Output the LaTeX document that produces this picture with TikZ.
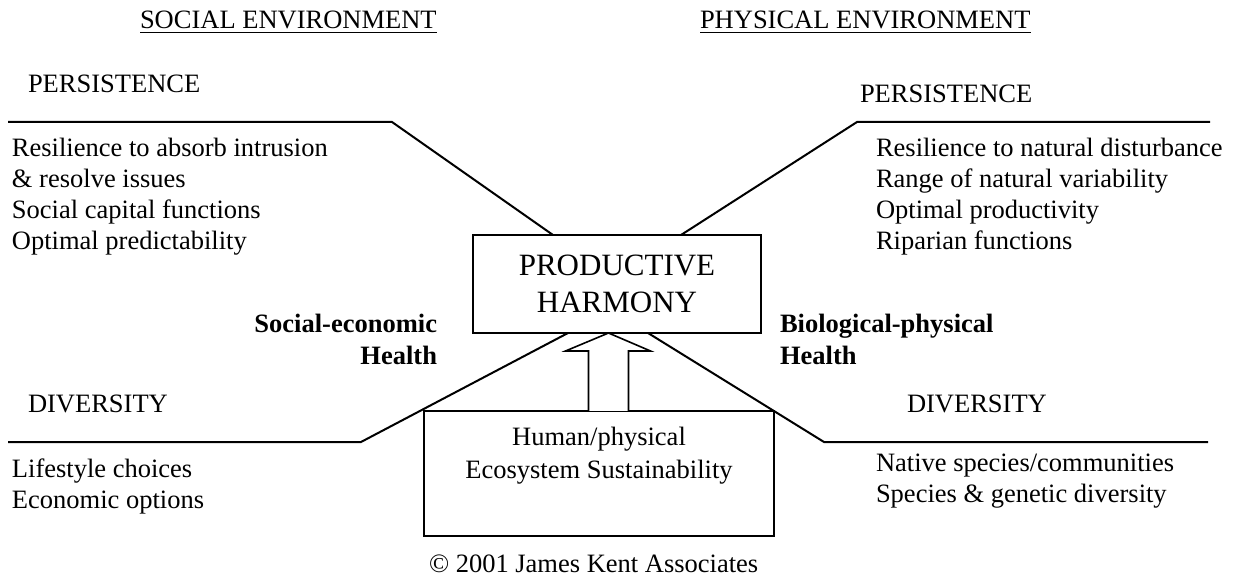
\documentclass[tikz,border=0pt]{standalone}
\usepackage{fontspec}
\setmainfont{Liberation Serif}
\usetikzlibrary{calc}
\tikzset{
  txt/.style={inner sep=0pt, outer sep=0pt, font=\fontsize{26.5}{31}\selectfont},
  bold/.style={txt, font=\fontsize{26.5}{31}\selectfont\bfseries},
  big/.style={inner sep=0pt, outer sep=0pt, font=\fontsize{31}{37}\selectfont},
  boxst/.style={draw, line width=1.6pt, inner sep=0pt, outer sep=0pt},
  branch/.style={line width=2pt, line join=miter},
  ul/.style={line width=1.3pt}
}
\begin{document}
\begin{tikzpicture}[x=1pt,y=-1pt]
\useasboundingbox (0,0) rectangle (1235,577);
% headings
\node[txt, anchor=base west] (soc) at (140,28.5) {SOCIAL ENVIRONMENT};
\node[txt, anchor=base west] (phy) at (700,28.5) {PHYSICAL ENVIRONMENT};
\draw[ul] ([yshift=-4pt]soc.base west) -- ([yshift=-4pt]soc.base east);
\draw[ul] ([yshift=-4pt]phy.base west) -- ([yshift=-4pt]phy.base east);
% section labels
\node[txt, anchor=base west] (persL) at (28,93) {PERSISTENCE};
\node[txt, anchor=base west] (persR) at (860,103) {PERSISTENCE};
\node[txt, anchor=base west] (divL) at (28,413) {DIVERSITY};
\node[txt, anchor=base west] (divR) at (907,413) {DIVERSITY};
% left persistence list
\node[txt, anchor=base west] (lp1) at (12,157) {Resilience to absorb intrusion};
\node[txt, anchor=base west] (lp2) at (12,188) {\& resolve issues};
\node[txt, anchor=base west] (lp3) at (12,219) {Social capital functions};
\node[txt, anchor=base west] (lp4) at (12,250) {Optimal predictability};
% right persistence list
\node[txt, anchor=base west] (rp1) at (876,157) {Resilience to natural disturbance};
\node[txt, anchor=base west] (rp2) at (876,188) {Range of natural variability};
\node[txt, anchor=base west] (rp3) at (876,219) {Optimal productivity};
\node[txt, anchor=base west] (rp4) at (876,250) {Riparian functions};
% diversity lists
\node[txt, anchor=base west] (ld1) at (12,477) {Lifestyle choices};
\node[txt, anchor=base west] (ld2) at (12,508) {Economic options};
\node[txt, anchor=base west] (rd1) at (876,471) {Native species/communities};
\node[txt, anchor=base west] (rd2) at (876,502) {Species \& genetic diversity};
% health labels
\node[bold, anchor=base east] (seh1) at (437,333) {Social-economic};
\node[bold, anchor=base east] (seh2) at (437,365) {Health};
\node[bold, anchor=base west] (bph1) at (780,333) {Biological-physical};
\node[bold, anchor=base west] (bph2) at (780,365) {Health};
% central boxes
\node[boxst, minimum width=288pt, minimum height=98pt] (prod) at (617,284) {};
\node[big, anchor=base] (prodt1) at (617,276) {PRODUCTIVE};
\node[big, anchor=base] (prodt2) at (617,313) {HARMONY};
\node[boxst, minimum width=350pt, minimum height=125pt] (sus) at (599,473.5) {};
\node[txt, anchor=base] (sust1) at (599,446) {Human/physical};
\node[txt, anchor=base] (sust2) at (599,478) {Ecosystem Sustainability};
% copyright
\node[txt, anchor=base west] (copy) at (429,572) {© 2001 James Kent Associates};
% branch lines
\coordinate (ulA) at (8,122);
\coordinate (ulB) at (392,122);
\coordinate (urA) at (1210,122);
\coordinate (urB) at (857,122);
\coordinate (llA) at (8,442);
\coordinate (llB) at (361,442);
\coordinate (lrA) at (1208,442);
\coordinate (lrB) at (824,442);
\draw[branch] (ulA) -- (ulB) -- ([xshift=80pt]prod.north west);
\draw[branch] (urA) -- (urB) -- ([xshift=-80pt]prod.north east);
\draw[branch] (llA) -- (llB) -- ([xshift=95pt]prod.south west);
\draw[branch] (lrA) -- (lrB) -- ([xshift=-113pt]prod.south east);
% block arrow
\coordinate (tip) at ([xshift=-8.5pt]prod.south);
\coordinate (abase) at (tip |- sus.north);
\draw[line width=1.6pt, line join=miter, fill=white]
  ($(abase)+(-20,0)$) -- ($(tip)+(-20,18)$) -- ($(tip)+(-43,18)$) -- (tip)
  -- ($(tip)+(42,18)$) -- ($(tip)+(20,18)$) -- ($(abase)+(20,0)$);
\end{tikzpicture}
\end{document}
